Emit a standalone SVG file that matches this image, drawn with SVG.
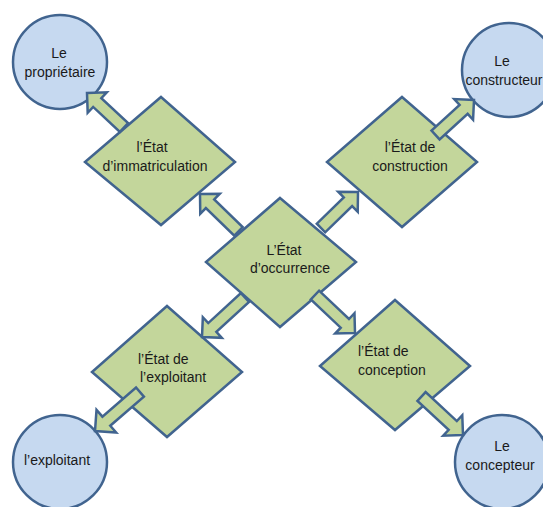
<svg xmlns="http://www.w3.org/2000/svg" width="543" height="507" viewBox="0 0 543 507">
<defs>
<style>
.circ{fill:#C6D9F0;stroke:#41648F;stroke-width:2.5}
.dia{fill:#C3D69B;stroke:#41648F;stroke-width:2.5;stroke-linejoin:miter}
.arr{fill:#C3D69B;stroke:#41648F;stroke-width:2.5;stroke-linejoin:miter}
text{font-family:"Liberation Sans",Arial,sans-serif;font-size:14px;fill:#1a1a1a}
.c{text-anchor:middle}
</style>
</defs>
<rect width="543" height="507" fill="#ffffff"/>
<g id="proprietaire">
<circle class="circ" cx="60" cy="62" r="47"/>
<text class="c" x="59" y="58">Le</text>
<text class="c" x="60" y="77">propriétaire</text>
</g>
<g id="constructeur">
<circle class="circ" cx="509" cy="70" r="47"/>
<text class="c" x="502" y="66">Le</text>
<text class="c" x="504" y="85">constructeur</text>
</g>
<g id="exploitant">
<circle class="circ" cx="60" cy="462" r="47"/>
<text class="c" x="57" y="465">l’exploitant</text>
</g>
<g id="concepteur">
<circle class="circ" cx="502" cy="462" r="47"/>
<text class="c" x="502" y="451">Le</text>
<text class="c" x="500" y="470">concepteur</text>
</g>
<g id="etat-immatriculation">
<polygon class="dia" points="161,97 235,162 161,225 85,162"/>
<text class="c" x="152" y="152">l’État</text>
<text class="c" x="155" y="171">d’immatriculation</text>
</g>
<g id="etat-construction">
<polygon class="dia" points="402,97 477,162 402,227 327,162"/>
<text class="c" x="410" y="152">l’État de</text>
<text class="c" x="410" y="171">construction</text>
</g>
<g id="etat-occurrence">
<polygon class="dia" points="280,198 356,262 280,327 206,262"/>
<text class="c" x="284" y="255">L’État</text>
<text class="c" x="290" y="273">d’occurrence</text>
</g>
<g id="etat-exploitant">
<polygon class="dia" points="167,306 242,372 167,437 92,372"/>
<text x="138" y="364">l’État de</text>
<text x="140" y="382">l’exploitant</text>
</g>
<g id="etat-conception">
<polygon class="dia" points="395,300 470,366 395,430 320,366"/>
<text x="358" y="356">l’État de</text>
<text x="358" y="375">conception</text>
</g>
<g id="connectors">
<path class="arr" transform="translate(200,194) rotate(44.2)" d="M0,0 L14,-14 L14,-6 L53.7,-6 L53.7,6 L14,6 L14,14 Z"/>
<path class="arr" transform="translate(87,93) rotate(43)" d="M0,0 L14,-14 L14,-6 L50.6,-6 L50.6,6 L14,6 L14,14 Z"/>
<path class="arr" transform="translate(358,192) rotate(135.8)" d="M0,0 L14,-14 L14,-6 L51.6,-6 L51.6,6 L14,6 L14,14 Z"/>
<path class="arr" transform="translate(474,100) rotate(137.7)" d="M0,0 L14,-14 L14,-6 L52,-6 L52,6 L14,6 L14,14 Z"/>
<path class="arr" transform="translate(202,337) rotate(-42.6)" d="M0,0 L14,-14 L14,-6 L58.4,-6 L58.4,6 L14,6 L14,14 Z"/>
<path class="arr" transform="translate(95,431) rotate(-40.9)" d="M0,0 L15,-15 L15,-6 L59.5,-6 L59.5,6 L15,6 L15,15 Z"/>
<path class="arr" transform="translate(355,333) rotate(-136.5)" d="M0,0 L14,-14 L14,-6 L55.2,-6 L55.2,6 L14,6 L14,14 Z"/>
<path class="arr" transform="translate(463,435) rotate(-137.1)" d="M0,0 L14,-14 L14,-6 L56.6,-6 L56.6,6 L14,6 L14,14 Z"/>
</g>
</svg>
